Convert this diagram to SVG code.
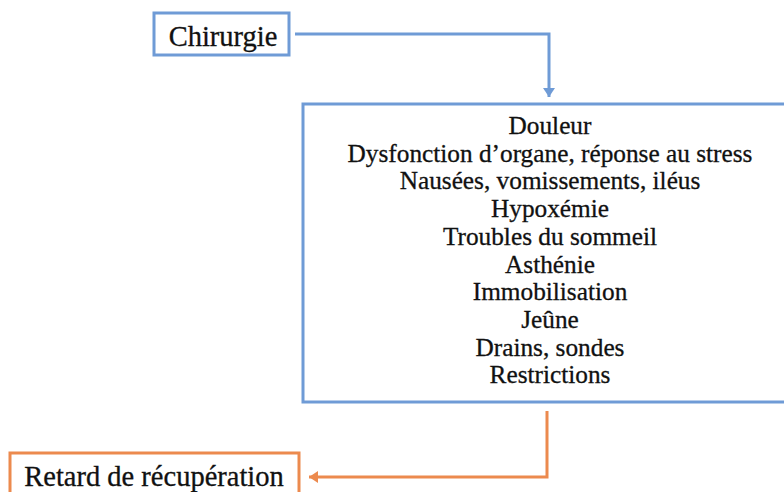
<svg xmlns="http://www.w3.org/2000/svg" width="784" height="492" viewBox="0 0 784 492">
<style>
.blue{fill:#fff;stroke:#6f9bd6;stroke-width:3}
.orange{fill:#fff;stroke:#ec8a4e;stroke-width:3}
.t{font-family:"Liberation Serif","Times New Roman",serif;fill:#111;stroke:#111;stroke-width:0.3;text-anchor:middle}
.big{font-size:28.5px}
.mid{font-size:25.3px}
.cb{fill:none;stroke:#6f9bd6;stroke-width:3}
.co{fill:none;stroke:#ec8a4e;stroke-width:3}
</style>
<defs>
<marker id="ab" markerWidth="4" markerHeight="4" refX="3" refY="2" orient="auto" markerUnits="strokeWidth"><path d="M0,0 L3,2 L0,4 Z" fill="#6f9bd6"/></marker>
<marker id="ao" markerWidth="4" markerHeight="4" refX="3" refY="2" orient="auto" markerUnits="strokeWidth"><path d="M0,0 L3,2 L0,4 Z" fill="#ec8a4e"/></marker>
</defs>
<rect width="784" height="492" fill="#fff"/>
<g id="connectors">
<path class="cb" d="M295,34 H549 V97" marker-end="url(#ab)"/>
<path class="co" d="M547,411 V477 H309" marker-end="url(#ao)"/>
</g>
<g id="chirurgie">
<rect class="blue" x="154" y="13" width="135" height="42"/>
<text class="t big" x="223" y="46">Chirurgie</text>
</g>
<g id="facteurs">
<rect class="blue" x="303" y="104" width="490" height="298"/>
<text class="t mid" x="550" y="134">Douleur</text>
<text class="t mid" x="550" y="161.7">Dysfonction d’organe, réponse au stress</text>
<text class="t mid" x="550" y="189.4">Nausées, vomissements, iléus</text>
<text class="t mid" x="550" y="217.1">Hypoxémie</text>
<text class="t mid" x="550" y="244.8">Troubles du sommeil</text>
<text class="t mid" x="550" y="272.5">Asthénie</text>
<text class="t mid" x="550" y="300.2">Immobilisation</text>
<text class="t mid" x="550" y="327.9">Jeûne</text>
<text class="t mid" x="550" y="355.6">Drains, sondes</text>
<text class="t mid" x="550" y="383.3">Restrictions</text>
</g>
<g id="retard">
<rect class="orange" x="10" y="453" width="289" height="60"/>
<text class="t big" x="154" y="486">Retard de récupération</text>
</g>
</svg>
